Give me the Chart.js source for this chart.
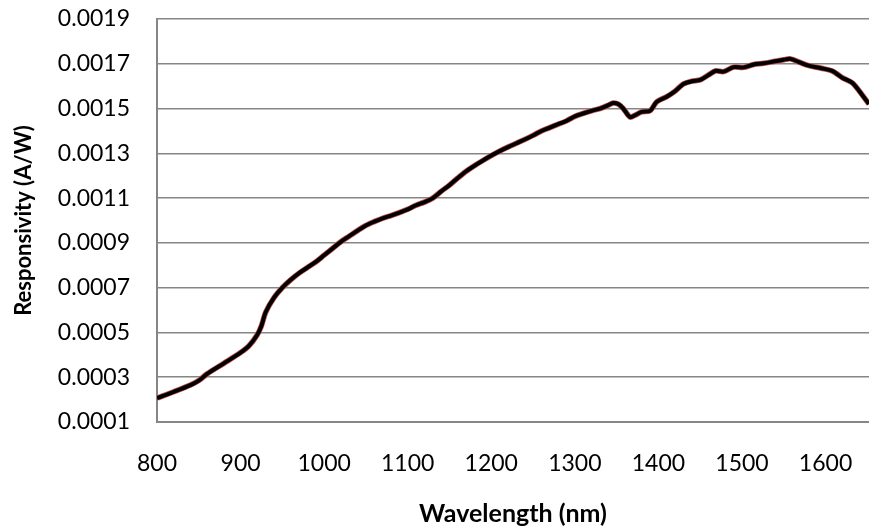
<!DOCTYPE html>
<html>
<head>
<meta charset="utf-8">
<script src="https://cdn.jsdelivr.net/npm/chart.js@4"></script>
<style>
html,body{margin:0;padding:0;background:#fff;}
#wrap{width:869px;height:531px;position:relative;}
</style>
</head>
<body>
<div id="wrap"><canvas id="c" width="869" height="531"></canvas></div>
<script>
const wavelengths = [800,820,840,850,860,880,900,910,920,925,930,940,950,960,970,980,990,1000,1010,1020,1030,1040,1050,1060,1070,1080,1090,1100,1110,1120,1130,1140,1150,1160,1170,1180,1190,1200,1210,1220,1230,1240,1250,1260,1270,1280,1290,1300,1310,1320,1330,1340,1346,1352,1358,1366,1372,1380,1390,1398,1410,1420,1430,1440,1450,1460,1468,1478,1490,1502,1514,1526,1538,1550,1558,1570,1580,1595,1608,1620,1632,1640,1652];
const responsivity = [0.000207,0.000235,0.000265,0.000285,0.000315,0.000362,0.000410,0.000440,0.000490,0.000530,0.000590,0.000655,0.000700,0.000735,0.000765,0.000790,0.000815,0.000845,0.000875,0.000905,0.000930,0.000955,0.000978,0.000995,0.001010,0.001022,0.001035,0.001050,0.001068,0.001082,0.001100,0.001130,0.001158,0.001190,0.001220,0.001245,0.001268,0.001290,0.001310,0.001328,0.001345,0.001362,0.001380,0.001400,0.001415,0.001430,0.001445,0.001465,0.001478,0.001490,0.001500,0.001515,0.001525,0.001520,0.001500,0.001462,0.001470,0.001485,0.001490,0.001530,0.001553,0.001578,0.001610,0.001622,0.001628,0.001650,0.001668,0.001665,0.001685,0.001684,0.001697,0.001702,0.001710,0.001718,0.001722,0.001705,0.001692,0.001680,0.001668,0.001638,0.001615,0.001580,0.001520];
const xTitle = 'Wavelength (nm)';
const yTitle = 'Responsivity (A/W)';
const xMin = 800, xMax = 1652, xStep = 100;
const yMin = 0.0001, yMax = 0.0019, yStep = 0.0002;

const points = wavelengths.map((w,i)=>({x:w, y:responsivity[i]}));
const FONT = 'Lato';

new Chart(document.getElementById('c'), {
  type: 'line',
  data: {
    datasets: [
      {data: points, borderColor:'#000000', borderWidth:4, pointRadius:0, tension:0.3, order:0, fill:false},
      {data: points, borderColor:'#c0504d', borderWidth:5.5, pointRadius:0, tension:0.3, order:1, fill:false}
    ]
  },
  options: {
    responsive:false,
    animation:false,
    devicePixelRatio:1,
    layout:{padding:{top:19,right:0,bottom:0,left:0}},
    plugins:{legend:{display:false}, title:{display:false}, tooltip:{enabled:false}},
    scales:{
      x:{
        type:'linear', min:xMin, max:xMax,
        grid:{display:false, drawTicks:false},
        border:{display:true, color:'#868686', width:2},
        ticks:{stepSize:xStep, includeBounds:false, padding:28, color:'#000', font:{family:FONT, size:23}, maxRotation:0,
          callback:v=>String(v)},
        title:{display:true, text:xTitle, color:'#000', font:{family:FONT, size:25, weight:'bold'}, padding:{top:0,bottom:2}},
        afterFit:s=>{s.height=109; s.paddingLeft=0; s.paddingRight=0;}
      },
      y:{
        type:'linear', min:yMin, max:yMax,
        grid:{color:'#868686', lineWidth:1.5, drawTicks:false},
        border:{display:true, color:'#868686', width:2},
        ticks:{stepSize:yStep, padding:27, color:'#000', font:{family:FONT, size:23},
          callback:v=>Number(v).toFixed(4)},
        title:{display:true, text:yTitle, color:'#000', font:{family:FONT, size:22, weight:'bold'}, padding:{top:11,bottom:0}},
        afterFit:s=>{s.width=157; s.paddingTop=0; s.paddingBottom=0;}
      }
    }
  }
});
</script>
</body>
</html>
